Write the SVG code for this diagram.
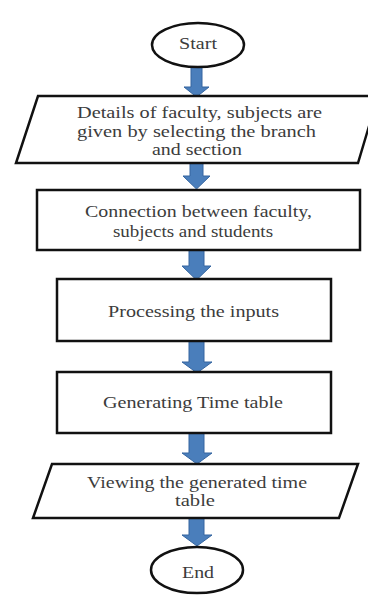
<svg xmlns="http://www.w3.org/2000/svg" width="368" height="595" viewBox="0 0 368 595">
<style>
.s{fill:#fff;stroke:#111;stroke-width:2.5}
.t{font-family:"Liberation Serif","Times New Roman",serif;font-size:16px;fill:#3c3c3c;text-anchor:middle}
.a{fill:#4a7ebb;stroke:#3565a0;stroke-width:1}
</style>
<rect width="368" height="595" fill="#fff"/>
<g id="connectors">
<path class="a" d="M191,67 H202 V87 H209 L196.5,97 L184,87 H191 Z"/>
<path class="a" d="M190,163 H203 V176 H210 L196.5,189 L183,176 H190 Z"/>
<path class="a" d="M189,250 H204 V266 H211 L196.5,280 L182,266 H189 Z"/>
<path class="a" d="M189,341 H204 V362 H212 L197,373 L182,362 H189 Z"/>
<path class="a" d="M189,433 H204 V453 H212 L197,464 L182,453 H189 Z"/>
<path class="a" d="M189,518 H204 V535 H212 L197,546 L182,535 H189 Z"/>
</g>
<g id="start">
<ellipse class="s" cx="198" cy="45" rx="46" ry="22" stroke-width="3"/>
<text class="t" x="198" y="49" textLength="38" lengthAdjust="spacingAndGlyphs">Start</text>
</g>
<g id="details">
<polygon class="s" points="38,96 378,96 358,163 16,163"/>
<text class="t" x="199.5" y="118" textLength="245" lengthAdjust="spacingAndGlyphs">Details of faculty, subjects are</text>
<text class="t" x="196.5" y="136.5" textLength="239" lengthAdjust="spacingAndGlyphs">given by selecting the branch</text>
<text class="t" x="197" y="155" textLength="90" lengthAdjust="spacingAndGlyphs">and section</text>
</g>
<g id="connection">
<rect class="s" x="37" y="190" width="323" height="60"/>
<text class="t" x="198.5" y="217" textLength="227" lengthAdjust="spacingAndGlyphs">Connection between faculty,</text>
<text class="t" x="193" y="237" textLength="160" lengthAdjust="spacingAndGlyphs">subjects and students</text>
</g>
<g id="processing">
<rect class="s" x="57" y="279" width="274" height="62"/>
<text class="t" x="193.5" y="317" textLength="171" lengthAdjust="spacingAndGlyphs">Processing the inputs</text>
</g>
<g id="generating">
<rect class="s" x="57" y="372" width="274" height="61"/>
<text class="t" x="193" y="408" textLength="180" lengthAdjust="spacingAndGlyphs">Generating Time table</text>
</g>
<g id="viewing">
<polygon class="s" points="52,464 358,464 339,518 33,518"/>
<text class="t" x="197" y="488" textLength="220" lengthAdjust="spacingAndGlyphs">Viewing the generated time</text>
<text class="t" x="195" y="506" textLength="40" lengthAdjust="spacingAndGlyphs">table</text>
</g>
<g id="end">
<ellipse class="s" cx="197" cy="570" rx="46" ry="23" stroke-width="3"/>
<text class="t" x="198" y="578" textLength="32" lengthAdjust="spacingAndGlyphs">End</text>
</g>
</svg>
